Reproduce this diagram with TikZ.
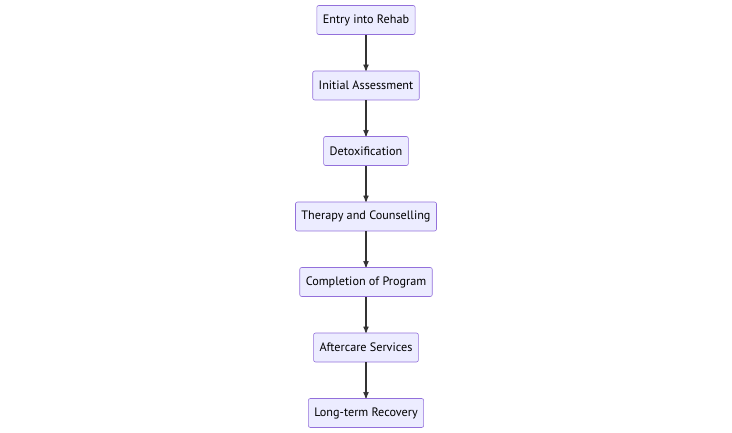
\documentclass[tikz,border=0pt]{standalone}
\usepackage{fontspec}
\setmainfont{PT Sans}
\usepackage{tikz}
\usetikzlibrary{arrows,shapes,positioning}

\definecolor{boxfill}{HTML}{ECECFF}
\definecolor{boxline}{HTML}{9370DB}
\definecolor{arrowline}{HTML}{333333}

\begin{document}
\begin{tikzpicture}[->,>=stealth',auto,node distance=65.5pt,
                  main node/.style={rectangle,rounded corners=2pt,draw=boxline,fill=boxfill,line width=0.6pt,
                                    minimum height=29pt,inner xsep=6pt,font=\fontsize{12.2}{14}\selectfont}]
    \useasboundingbox (0,0) rectangle (732pt,-433pt);

    \node[main node] (1) at (366pt,-20pt) {Entry into Rehab};
    \node[main node] (2) [below of=1] {Initial Assessment};
    \node[main node] (3) [below of=2] {Detoxification};
    \node[main node] (4) [below of=3] {Therapy and Counselling};
    \node[main node] (5) [below of=4] {Completion of Program};
    \node[main node] (6) [below of=5] {Aftercare Services};
    \node[main node] (7) [below of=6] {Long-term Recovery};

    % arrows between steps
    \draw[arrowline,line width=1.2pt] (1) edge (2);
    \draw[arrowline,line width=1.2pt] (2) edge (3);
    \draw[arrowline,line width=1.2pt] (3) edge (4);
    \draw[arrowline,line width=1.2pt] (4) edge (5);
    \draw[arrowline,line width=1.2pt] (5) edge (6);
    \draw[arrowline,line width=1.2pt] (6) edge (7);
\end{tikzpicture}
\end{document}
